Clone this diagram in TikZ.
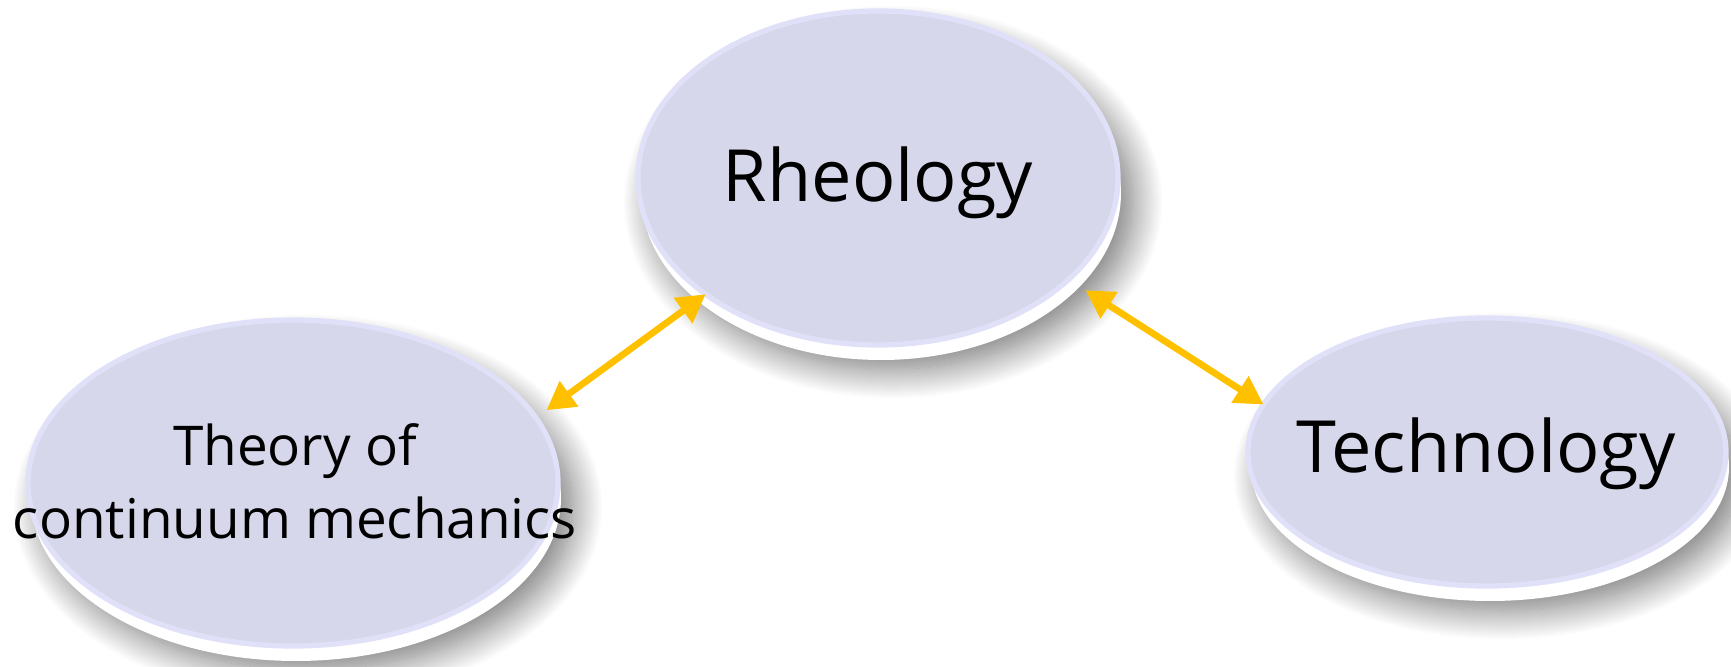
\documentclass[tikz,border=0pt]{standalone}
\usepackage{fontspec}
\newfontfamily\handfont{Open Sans}
\usepackage{tikz}
\usetikzlibrary{shapes.geometric, arrows.meta}
\usetikzlibrary{shadows, shadows.blur}
\definecolor{lavender}{RGB}{214,215,234}
\definecolor{rimblue}{RGB}{224,224,248}
\definecolor{gold}{RGB}{255,192,0}
\tikzstyle{blob} = [ellipse, fill=lavender, draw=rimblue, line width=1.5pt, inner sep=0pt, outer sep=0pt,
blur shadow={shadow xshift=0.15cm, shadow yshift=-0.24cm, shadow blur radius=0.3cm, shadow blur steps=30, shadow opacity=55},
general shadow={fill=white, shadow xshift=0.03cm, shadow yshift=-0.15cm}]
\tikzstyle{bigtxt} = [font=\handfont\fontsize{20.5}{24}\selectfont, text=black, anchor=base]
\tikzstyle{smalltxt} = [font=\handfont\fontsize{15.6}{20.5}\selectfont, text=black, align=center, anchor=base]
\tikzstyle{link} = [line width=1.9pt, draw=gold, {Triangle[length=0.28cm,width=0.3cm]}-{Triangle[length=0.28cm,width=0.3cm]}]

\begin{document}
\begin{tikzpicture}
\useasboundingbox (0,0) rectangle (17.31,-6.67);
\node (rheo) at (8.78,-1.78) [blob, minimum width=4.8cm, minimum height=3.34cm] {};
\node (theory) at (2.93,-4.83) [blob, minimum width=5.3cm, minimum height=3.26cm] {};
\node (tech) at (14.87,-4.52) [blob, minimum width=4.78cm, minimum height=2.68cm] {};
\node (rheo-txt) at (8.78,-2.02) [bigtxt] {Rheology};
\node (theory-txt) at (2.95,-5.38) [smalltxt] {Theory of\\continuum mechanics};
\node (tech-txt) at (14.86,-4.73) [bigtxt] {Technology};
\draw[link, shorten <=0.13cm] (theory.15) -- (rheo.214);
\draw[link, shorten <=0.2cm] (rheo.332) -- (tech.168);
\end{tikzpicture}
\end{document}
